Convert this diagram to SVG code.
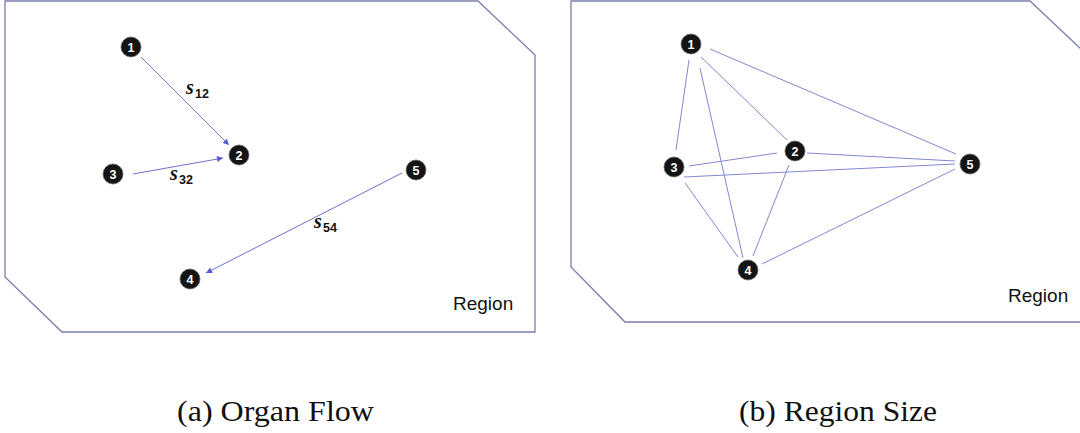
<svg xmlns="http://www.w3.org/2000/svg" width="1080" height="433" viewBox="0 0 1080 433">
  <defs>
    <marker id="ah" viewBox="0 0 10 10" refX="10" refY="5" markerWidth="7" markerHeight="6" markerUnits="userSpaceOnUse" orient="auto">
      <path d="M0,0 L10,5 L0,10 z" fill="#5a5ad0"/>
    </marker>
    <style>
      .frame { fill: #ffffff; stroke: #7a7eaa; stroke-width: 1.3; }
      .node circle { fill: #141414; stroke: #666; stroke-width: 0.8; }
      .node text { font-family: "Liberation Sans", Arial, sans-serif; font-weight: bold; font-size: 12.5px; fill: #ffffff; text-anchor: middle; }
      .flow { stroke: #6f6fd2; stroke-width: 1; fill: none; }
      .edge { stroke: #8487cf; stroke-width: 1; fill: none; }
      .region { font-family: "Liberation Sans", Arial, sans-serif; font-size: 19px; fill: #111; }
      .sym { font-family: "Liberation Serif", "DejaVu Serif", serif; font-weight: bold; font-style: italic; font-size: 20px; fill: #111; }
      .sub { font-family: "Liberation Sans", Arial, sans-serif; font-weight: bold; font-size: 12.5px; fill: #111; }
      .cap { font-family: "Liberation Serif", "DejaVu Serif", serif; font-size: 29px; fill: #111; }
    </style>
  </defs>
  <rect x="0" y="0" width="1080" height="433" fill="#ffffff"/>

  <!-- Panel (a) -->
  <g id="panel-a">
    <path class="frame" d="M5,1 L478,1 L535,55 L535,332 L62,332 L5,277 Z"/>
    <text class="region" x="453" y="310">Region</text>
  </g>
  <g id="connectors-a">
    <line class="flow" x1="141" y1="57" x2="229" y2="145" marker-end="url(#ah)"/>
    <line class="flow" x1="133" y1="174" x2="223" y2="158" marker-end="url(#ah)"/>
    <line class="flow" x1="402" y1="173" x2="206" y2="273" marker-end="url(#ah)"/>
    <g id="label-s12"><text class="sym" x="186" y="94">s</text><text class="sub" x="195" y="98">12</text></g>
    <g id="label-s32"><text class="sym" x="170" y="180">s</text><text class="sub" x="179" y="184">32</text></g>
    <g id="label-s54"><text class="sym" x="314" y="228">s</text><text class="sub" x="323" y="232">54</text></g>
  </g>
  <g id="a-node1" class="node"><circle cx="131" cy="47" r="10"/><text x="131" y="51.5">1</text></g>
  <g id="a-node2" class="node"><circle cx="239" cy="155" r="10"/><text x="239" y="159.5">2</text></g>
  <g id="a-node3" class="node"><circle cx="113" cy="174" r="10"/><text x="113" y="178.5">3</text></g>
  <g id="a-node4" class="node"><circle cx="190" cy="279" r="10"/><text x="190" y="283.5">4</text></g>
  <g id="a-node5" class="node"><circle cx="416" cy="170" r="10"/><text x="416" y="174.5">5</text></g>

  <!-- Panel (b) -->
  <g id="panel-b">
    <path class="frame" d="M571,1 L1030,1 L1082,50 L1082,322 L625,322 L571,267 Z"/>
    <text class="region" x="1008" y="302">Region</text>
  </g>
  <g id="connectors-b">
    <line class="edge" x1="689" y1="60" x2="676" y2="150"/>
    <line class="edge" x1="700" y1="68" x2="743" y2="258"/>
    <line class="edge" x1="701" y1="57" x2="787" y2="140"/>
    <line class="edge" x1="710" y1="49" x2="956" y2="154"/>
    <line class="edge" x1="689" y1="166" x2="777" y2="153"/>
    <line class="edge" x1="807" y1="153" x2="955" y2="161"/>
    <line class="edge" x1="684" y1="177" x2="955" y2="164"/>
    <line class="edge" x1="685" y1="183" x2="738" y2="257"/>
    <line class="edge" x1="789" y1="165" x2="753" y2="256"/>
    <line class="edge" x1="762" y1="264" x2="955" y2="169"/>
  </g>
  <g id="b-node1" class="node"><circle cx="691" cy="44" r="10"/><text x="691" y="48.5">1</text></g>
  <g id="b-node2" class="node"><circle cx="795" cy="151" r="10"/><text x="795" y="155.5">2</text></g>
  <g id="b-node3" class="node"><circle cx="674" cy="167" r="10"/><text x="674" y="171.5">3</text></g>
  <g id="b-node4" class="node"><circle cx="748" cy="270" r="10"/><text x="748" y="274.5">4</text></g>
  <g id="b-node5" class="node"><circle cx="970" cy="164" r="10"/><text x="970" y="168.5">5</text></g>

  <!-- Captions -->
  <text class="cap" x="177" y="421" textLength="197" lengthAdjust="spacingAndGlyphs">(a) Organ Flow</text>
  <text class="cap" x="739" y="421" textLength="198" lengthAdjust="spacingAndGlyphs">(b) Region Size</text>
</svg>
